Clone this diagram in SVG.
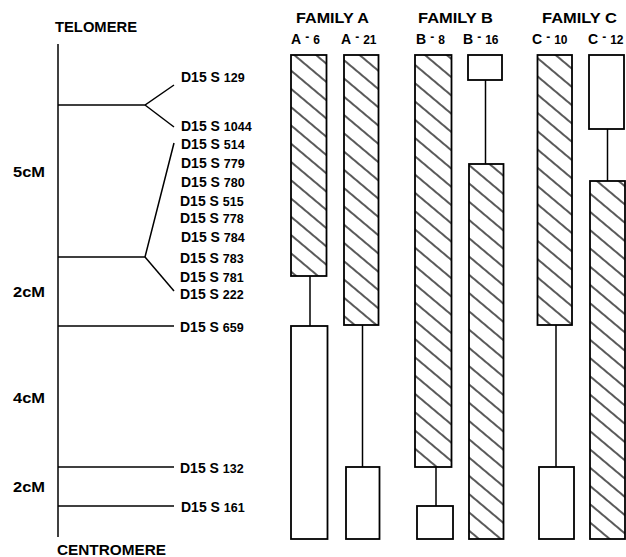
<svg xmlns="http://www.w3.org/2000/svg" width="626" height="557" viewBox="0 0 626 557">
<style>
text{font-family:"Liberation Sans",Arial,sans-serif;font-weight:bold;fill:#000}
.t{font-size:14px}
.m{font-size:14px}
.n{font-size:12.5px}
.h{font-size:14px}
.c{font-size:14px}
.cs{font-size:12px}
.d{font-size:12px}
.ln{stroke:#000;stroke-width:1.5;fill:none}
.hb{fill:url(#hatch);stroke:#000;stroke-width:1.8}
.wb{fill:#fff;stroke:#000;stroke-width:1.8}
.cn{stroke:#000;stroke-width:1.5}
</style>
<defs>
<pattern id="hatch" patternUnits="userSpaceOnUse" width="14" height="14" patternTransform="rotate(40)">
<rect width="14" height="14" fill="#fff"/>
<line x1="0" y1="7" x2="14" y2="7" stroke="#000" stroke-width="1.3"/>
</pattern>
</defs>
<rect width="626" height="557" fill="#fff"/>
<g id="connectors">
<line class="ln" x1="58" y1="44" x2="58" y2="537"/>
<polyline class="ln" points="58,105 145,105 174,85"/>
<line class="ln" x1="145" y1="105" x2="174" y2="127"/>
<polyline class="ln" points="58,257 145,257 174,143"/>
<line class="ln" x1="145" y1="257" x2="174" y2="291"/>
<line class="ln" x1="58" y1="326" x2="174" y2="326"/>
<line class="ln" x1="58" y1="467" x2="174" y2="467"/>
<line class="ln" x1="58" y1="506" x2="174" y2="506"/>
</g>
<g id="ends">
<text class="t" x="55" y="32" textLength="82" lengthAdjust="spacingAndGlyphs">TELOMERE</text>
<text class="t" x="57" y="555" textLength="109" lengthAdjust="spacingAndGlyphs">CENTROMERE</text>
</g>
<g id="distances">
<text class="c" x="13" y="177" font-size="15" textLength="32" lengthAdjust="spacingAndGlyphs">5cM</text>
<text class="c" x="13" y="297" font-size="15" textLength="32" lengthAdjust="spacingAndGlyphs">2cM</text>
<text class="c" x="13" y="403" font-size="15" textLength="32" lengthAdjust="spacingAndGlyphs">4cM</text>
<text class="c" x="13" y="492" font-size="15" textLength="32" lengthAdjust="spacingAndGlyphs">2cM</text>
</g>
<g id="markers">
<text class="m" x="181" y="82">D15 S <tspan class="n">129</tspan></text>
<text class="m" x="181" y="131">D15 S <tspan class="n">1044</tspan></text>
<text class="m" x="181" y="149">D15 S <tspan class="n">514</tspan></text>
<text class="m" x="181" y="168">D15 S <tspan class="n">779</tspan></text>
<text class="m" x="181" y="187">D15 S <tspan class="n">780</tspan></text>
<text class="m" x="180" y="206">D15 S <tspan class="n">515</tspan></text>
<text class="m" x="180" y="223">D15 S <tspan class="n">778</tspan></text>
<text class="m" x="181" y="242">D15 S <tspan class="n">784</tspan></text>
<text class="m" x="180" y="263">D15 S <tspan class="n">783</tspan></text>
<text class="m" x="180" y="282">D15 S <tspan class="n">781</tspan></text>
<text class="m" x="180" y="299">D15 S <tspan class="n">222</tspan></text>
<text class="m" x="180" y="332">D15 S <tspan class="n">659</tspan></text>
<text class="m" x="180" y="473">D15 S <tspan class="n">132</tspan></text>
<text class="m" x="181" y="512">D15 S <tspan class="n">161</tspan></text>
</g>
<g id="family-a">
<text class="h" x="296" y="23" textLength="73" lengthAdjust="spacingAndGlyphs">FAMILY A</text>
<g id="a6">
<text class="h" x="291" y="44">A<tspan class="d" dx="4" dy="-3">-</tspan><tspan class="cs" dx="4" dy="3">6</tspan></text>
<line class="cn" x1="310" y1="276" x2="310" y2="326"/>
<rect class="hb" x="291" y="55" width="35.5" height="221"/>
<rect class="wb" x="291" y="326" width="36.5" height="213"/>
</g>
<g id="a21">
<text class="h" x="341" y="44">A<tspan class="d" dx="4" dy="-3">-</tspan><tspan class="cs" dx="4" dy="3">21</tspan></text>
<line class="cn" x1="362.5" y1="325" x2="362.5" y2="467"/>
<rect class="hb" x="344" y="55" width="34.5" height="270"/>
<rect class="wb" x="346" y="467" width="33.5" height="72"/>
</g>
</g>
<g id="family-b">
<text class="h" x="418" y="23" textLength="75" lengthAdjust="spacingAndGlyphs">FAMILY B</text>
<g id="b8">
<text class="h" x="416" y="44">B<tspan class="d" dx="4" dy="-3">-</tspan><tspan class="cs" dx="4" dy="3">8</tspan></text>
<line class="cn" x1="436" y1="467" x2="436" y2="506"/>
<rect class="hb" x="415" y="55" width="36.5" height="412"/>
<rect class="wb" x="417" y="506" width="36" height="33"/>
</g>
<g id="b16">
<text class="h" x="463" y="44">B<tspan class="d" dx="4" dy="-3">-</tspan><tspan class="cs" dx="4" dy="3">16</tspan></text>
<line class="cn" x1="485.5" y1="80" x2="485.5" y2="164"/>
<rect class="wb" x="468" y="55" width="34" height="25"/>
<rect class="hb" x="469" y="164" width="34.5" height="375"/>
</g>
</g>
<g id="family-c">
<text class="h" x="542" y="23" textLength="75" lengthAdjust="spacingAndGlyphs">FAMILY C</text>
<g id="c10">
<text class="h" x="532" y="44">C<tspan class="d" dx="4" dy="-3">-</tspan><tspan class="cs" dx="4" dy="3">10</tspan></text>
<line class="cn" x1="556" y1="325" x2="556" y2="467"/>
<rect class="hb" x="537.5" y="55" width="34.5" height="270"/>
<rect class="wb" x="539" y="467" width="35" height="72"/>
</g>
<g id="c12">
<text class="h" x="588" y="44">C<tspan class="d" dx="4" dy="-3">-</tspan><tspan class="cs" dx="4" dy="3">12</tspan></text>
<line class="cn" x1="607.5" y1="129" x2="607.5" y2="181"/>
<rect class="wb" x="589" y="55" width="35" height="74"/>
<rect class="hb" x="590" y="181" width="35" height="358"/>
</g>
</g>
</svg>
